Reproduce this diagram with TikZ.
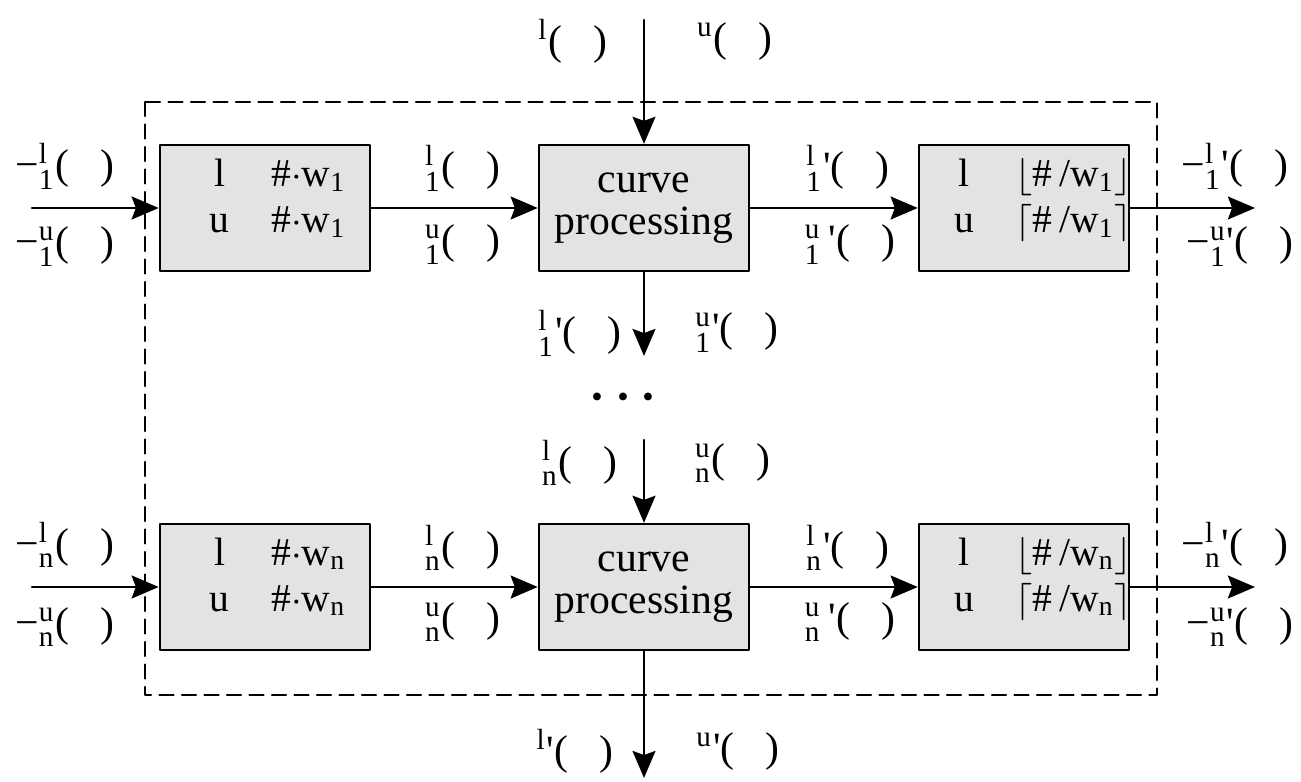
\documentclass[tikz,border=0pt]{standalone}
\usepackage{fontspec}
\setmainfont{Liberation Serif}[Ligatures=TeXOff]
\usepackage{amsmath}
\usetikzlibrary{arrows.meta}

% signal label: prefix, upper index, lower index, mark
\newcommand{\sig}[4]{$\text{#1}^{\text{#2}}_{\text{#3}}\text{#4(\ \ \ )}$}

\begin{document}
\begin{tikzpicture}[x=0.24pt, y=-0.24pt, line cap=round, line join=round,
    blk/.style={draw, line width=0.6pt, fill=black!11, minimum width=50.4pt,
      minimum height=30.2pt, inner sep=1pt, align=center},
    sig/.style={-{Stealth[length=6.5pt,width=5.5pt,inset=1pt]}, line width=0.6pt},
    lbl/.style={inner sep=0pt, font=\fontsize{10}{12}\selectfont},
    tab/.style={font=\fontsize{9.5}{11}\selectfont}]

    \useasboundingbox (0,0) rectangle (1301,782);

    % --- 1. Enclosure ---
    \draw[line width=0.5pt, dash pattern=on 3.4pt off 2pt] (145,102) rectangle (1157,695);

    % --- 2. Row 1 ---
    \node[blk] (pre1) at (265,208) {};
    \node[blk] (cp1) at (644,208) {curve\\[-2pt]processing};
    \node[blk] (post1) at (1024,208) {};
    \node[tab] (pre1t) at (278,200) {\begin{tabular}{@{}c@{\hspace{10pt}}l@{}}
        l & \#$\cdot$w$_{\text{1}}$\\ u & \#$\cdot$w$_{\text{1}}$\end{tabular}};
    \node[tab] (post1t) at (1043,200) {\begin{tabular}{@{}c@{\hspace{10pt}}l@{}}
        l & $\lfloor$\#\,/w$_{\text{1}}\rfloor$\\ u & $\lceil$\#\,/w$_{\text{1}}\rceil$\end{tabular}};

    % --- 3. Row n ---
    \node[blk] (pren) at (265,587) {};
    \node[blk] (cpn) at (644,587) {curve\\[-2pt]processing};
    \node[blk] (postn) at (1024,587) {};
    \node[tab] (prent) at (278,579) {\begin{tabular}{@{}c@{\hspace{10pt}}l@{}}
        l & \#$\cdot$w$_{\text{n}}$\\ u & \#$\cdot$w$_{\text{n}}$\end{tabular}};
    \node[tab] (postnt) at (1043,579) {\begin{tabular}{@{}c@{\hspace{10pt}}l@{}}
        l & $\lfloor$\#\,/w$_{\text{n}}\rfloor$\\ u & $\lceil$\#\,/w$_{\text{n}}\rceil$\end{tabular}};

    % free ends
    \coordinate (in1) at (32,208);
    \coordinate (out1) at (1255,208);
    \coordinate (inn) at (32,587);
    \coordinate (outn) at (1255,587);
    \coordinate (top) at (644,20);
    \coordinate (mid1) at (644,356);
    \coordinate (midn) at (644,440);
    \coordinate (bot) at (644,778);

    % --- 4. Connectors ---
    \draw[sig] (in1) -- (pre1);
    \draw[sig] (pre1) -- (cp1);
    \draw[sig] (cp1) -- (post1);
    \draw[sig] (post1) -- (out1);
    \draw[sig] (inn) -- (pren);
    \draw[sig] (pren) -- (cpn);
    \draw[sig] (cpn) -- (postn);
    \draw[sig] (postn) -- (outn);
    \draw[sig] (top) -- (cp1);
    \draw[sig] (cp1) -- (mid1);
    \draw[sig] (midn) -- (cpn);
    \draw[sig] (cpn) -- (bot);

    % --- 5. Labels ---
    \node[lbl] (tl) at (573,42) {\sig{}{l}{}{}};
    \node[lbl] (tu) at (735,42) {\sig{}{u}{}{}};

    \node[lbl] (a1l) at (65,166) {\sig{−}{l}{1}{}};
    \node[lbl] (a1u) at (65,247) {\sig{−}{u}{1}{}};
    \node[lbl] (b1l) at (463,168) {\sig{}{l}{1}{}};
    \node[lbl] (b1u) at (463,245) {\sig{}{u}{1}{}};
    \node[lbl] (c1l) at (848,168) {\sig{}{l}{1}{'}};
    \node[lbl] (c1u) at (850,245) {\sig{}{u}{1}{\,'}};
    \node[lbl] (d1l) at (1235,166) {\sig{−}{l}{1}{'}};
    \node[lbl] (d1u) at (1240,247) {\sig{−}{u}{1}{'}};

    \node[lbl] (m1l) at (580,333) {\sig{}{l}{1}{'}};
    \node[lbl] (m1u) at (737,333) {\sig{}{u}{1}{'}};
    \node[lbl] (dots) at (628,398) {\large$\boldsymbol{\cdots}$};
    \node[lbl] (mnl) at (580,463) {\sig{}{l}{n}{}};
    \node[lbl] (mnu) at (733,463) {\sig{}{u}{n}{}};

    \node[lbl] (anl) at (65,545) {\sig{−}{l}{n}{}};
    \node[lbl] (anu) at (65,627) {\sig{−}{u}{n}{}};
    \node[lbl] (bnl) at (463,548) {\sig{}{l}{n}{}};
    \node[lbl] (bnu) at (463,622) {\sig{}{u}{n}{}};
    \node[lbl] (cnl) at (848,548) {\sig{}{l}{n}{'}};
    \node[lbl] (cnu) at (850,622) {\sig{}{u}{n}{\,'}};
    \node[lbl] (dnl) at (1235,545) {\sig{−}{l}{n}{'}};
    \node[lbl] (dnu) at (1240,627) {\sig{−}{u}{n}{'}};

    \node[lbl] (bl) at (575,752) {\sig{}{l}{}{'}};
    \node[lbl] (bu) at (738,752) {\sig{}{u}{}{'}};
\end{tikzpicture}
\end{document}
